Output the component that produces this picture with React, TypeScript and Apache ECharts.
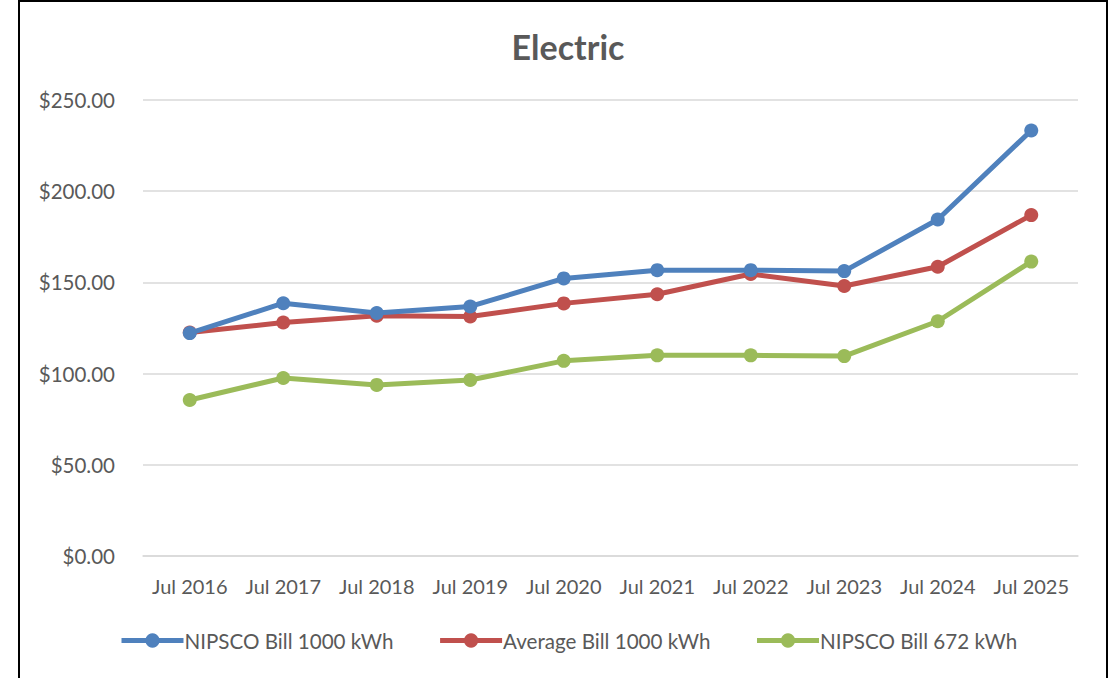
import React, { useEffect, useRef } from "react";
import * as echarts from "echarts";

const categories = ["Jul 2016", "Jul 2017", "Jul 2018", "Jul 2019", "Jul 2020", "Jul 2021", "Jul 2022", "Jul 2023", "Jul 2024", "Jul 2025"];
const nipsco1000 = [122.2, 138.6, 133.2, 136.8, 152.2, 156.7, 156.7, 156.2, 184.5, 233.3];
const average1000 = [122.5, 128.0, 131.7, 131.3, 138.5, 143.5, 154.6, 148.0, 158.6, 186.9];
const nipsco672 = [85.5, 97.6, 93.8, 96.5, 107.0, 110.0, 110.0, 109.6, 128.7, 161.4];
const seriesNames = ["NIPSCO Bill 1000 kWh", "Average Bill 1000 kWh", "NIPSCO Bill 672 kWh"];
const colors = ["#4F81BD", "#C0504D", "#9BBB59"];

const FONT = "Lato, 'Open Sans', sans-serif";

export default function App() {
  const ref = useRef<HTMLDivElement>(null);
  useEffect(() => {
    document.body.style.margin = "0";
    const chart = echarts.init(ref.current!, null, { renderer: "svg" });
    const data = [nipsco1000, average1000, nipsco672];
    chart.setOption({
      animation: false,
      backgroundColor: "#ffffff",
      textStyle: { fontFamily: FONT },
      title: {
        text: "Electric",
        left: 563,
        textAlign: "center",
        top: 24,
        textStyle: { fontFamily: FONT, fontSize: 34, fontWeight: "bold", color: "#595959" },
      },
      graphic: [
        {
          type: "rect",
          shape: { x: 19, y: 1, width: 1088, height: 700 },
          style: { fill: "none", stroke: "#000000", lineWidth: 2 },
          silent: true,
          z: 100,
        },
      ],
      grid: { left: 143, right: 32, top: 100, bottom: 122, containLabel: false },
      legend: {
        top: 625,
        left: 114,
        itemWidth: 62,
        itemHeight: 18,
        itemGap: 44,
        lineStyle: { width: 5 },
        textStyle: { fontFamily: FONT, fontSize: 20.6, color: "#595959", padding: [0, 0, 0, -4] },
        data: seriesNames,
      },
      xAxis: {
        type: "category",
        data: categories,
        boundaryGap: true,
        axisLine: { show: true, lineStyle: { color: "#d9d9d9", width: 1.5 } },
        axisTick: { show: false },
        axisLabel: { fontFamily: FONT, fontSize: 20, color: "#595959", margin: 20, interval: 0, hideOverlap: false },
      },
      yAxis: {
        type: "value",
        min: 0,
        max: 250,
        interval: 50,
        axisLine: { show: false },
        axisTick: { show: false },
        splitLine: { lineStyle: { color: "#d9d9d9", width: 1.5 } },
        axisLabel: {
          fontFamily: FONT,
          fontSize: 20.5,
          color: "#595959",
          margin: 28,
          formatter: (v: number) => "$" + v.toFixed(2),
        },
      },
      series: data.map((d, i) => ({
        name: seriesNames[i],
        type: "line",
        data: d,
        symbol: "circle",
        symbolSize: 14,
        showSymbol: true,
        color: colors[i],
        lineStyle: { width: 5, color: colors[i] },
        itemStyle: { color: colors[i] },
        z: 3 - i,
      })),
    });
    return () => chart.dispose();
  }, []);
  return <div ref={ref} style={{ width: 1110, height: 678 }} />;
}
